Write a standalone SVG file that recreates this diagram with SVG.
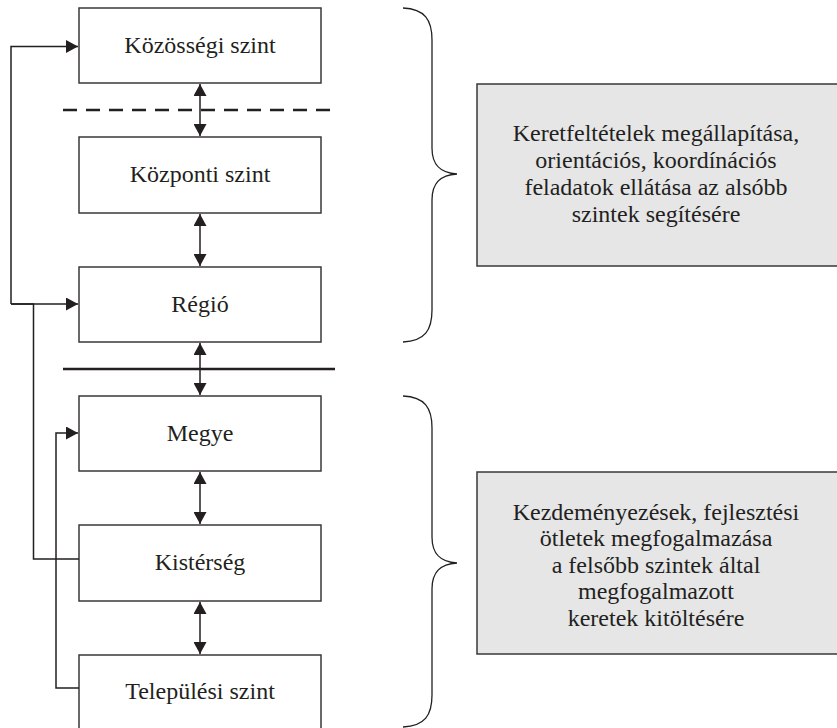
<svg xmlns="http://www.w3.org/2000/svg" width="837" height="728" viewBox="0 0 837 728">
<defs>
<marker id="ah" viewBox="0 0 12 13" refX="12" refY="6.5" markerWidth="12" markerHeight="13" markerUnits="userSpaceOnUse" orient="auto-start-reverse">
<path d="M0,0 L12,6.5 L0,13 Z" fill="#231f20"/>
</marker>
<style>
.box{fill:#fff;stroke:#3a3738;stroke-width:1.5}
.gbox{fill:#e6e6e7;stroke:#3a3738;stroke-width:1.5}
.t{font-family:'Liberation Serif','Times New Roman','DejaVu Serif',serif;font-size:24px;fill:#231f20;text-anchor:middle}
.c{fill:none;stroke:#231f20;stroke-width:1.5}
.br{fill:none;stroke:#231f20;stroke-width:1.3}
</style>
</defs>
<rect width="837" height="728" fill="#fff"/>
<g id="sep">
<line x1="63" y1="110" x2="334" y2="110" stroke="#231f20" stroke-width="2.5" stroke-dasharray="14,9"/>
<line x1="63" y1="369" x2="335" y2="369" stroke="#231f20" stroke-width="2.5"/>
</g>
<g id="n1"><rect class="box" x="79" y="8" width="242" height="75"/><text class="t" x="200" y="53">Közösségi szint</text></g>
<g id="n2"><rect class="box" x="79" y="137" width="242" height="76"/><text class="t" x="200" y="182">Központi szint</text></g>
<g id="n3"><rect class="box" x="79" y="267" width="242" height="75"/><text class="t" x="200" y="312">Régió</text></g>
<g id="n4"><rect class="box" x="79" y="396" width="242" height="75"/><text class="t" x="200" y="441">Megye</text></g>
<g id="n5"><rect class="box" x="79" y="525" width="242" height="76"/><text class="t" x="200" y="570">Kistérség</text></g>
<g id="n6"><rect class="box" x="79" y="655" width="242" height="76"/><text class="t" x="200" y="699">Települési szint</text></g>
<g id="note1"><rect class="gbox" x="477" y="84" width="362" height="182"/>
<text class="t" x="656" y="141">Keretfeltételek megállapítása,</text>
<text class="t" x="656" y="168">orientációs, koordínációs</text>
<text class="t" x="656" y="195">feladatok ellátása az alsóbb</text>
<text class="t" x="656" y="222">szintek segítésére</text></g>
<g id="note2"><rect class="gbox" x="477" y="472" width="362" height="182"/>
<text class="t" x="656" y="520">Kezdeményezések, fejlesztési</text>
<text class="t" x="656" y="546">ötletek megfogalmazása</text>
<text class="t" x="656" y="573">a felsőbb szintek által</text>
<text class="t" x="656" y="599">megfogalmazott</text>
<text class="t" x="656" y="626">keretek kitöltésére</text></g>
<g id="connectors">
<line class="c" x1="200" y1="84" x2="200" y2="136" marker-start="url(#ah)" marker-end="url(#ah)"/>
<line class="c" x1="200" y1="214" x2="200" y2="266" marker-start="url(#ah)" marker-end="url(#ah)"/>
<line class="c" x1="200" y1="343" x2="200" y2="395" marker-start="url(#ah)" marker-end="url(#ah)"/>
<line class="c" x1="200" y1="472" x2="200" y2="524" marker-start="url(#ah)" marker-end="url(#ah)"/>
<line class="c" x1="200" y1="602" x2="200" y2="654" marker-start="url(#ah)" marker-end="url(#ah)"/>
<polyline class="c" points="11,304 11,46.5 78,46.5" marker-end="url(#ah)"/>
<polyline class="c" points="79,559 33.5,559 33.5,304 11,304"/>
<line class="c" x1="11" y1="304" x2="78" y2="304" marker-end="url(#ah)"/>
<polyline class="c" points="79,688 56,688 56,433 78,433" marker-end="url(#ah)"/>
</g>
<g id="brace1"><path class="br" d="M403,8 C425,9 432,20 432,40 L432,148 C432,165 440,173 457,174 C440,175 432,183 432,200 L432,310 C432,330 425,341 403,342"/></g>
<g id="brace2"><path class="br" d="M403,396 C425,397 432,408 432,428 L432,537 C432,554 440,562 457,563 C440,564 432,572 432,589 L432,695 C432,715 425,726 403,727"/></g>
</svg>
